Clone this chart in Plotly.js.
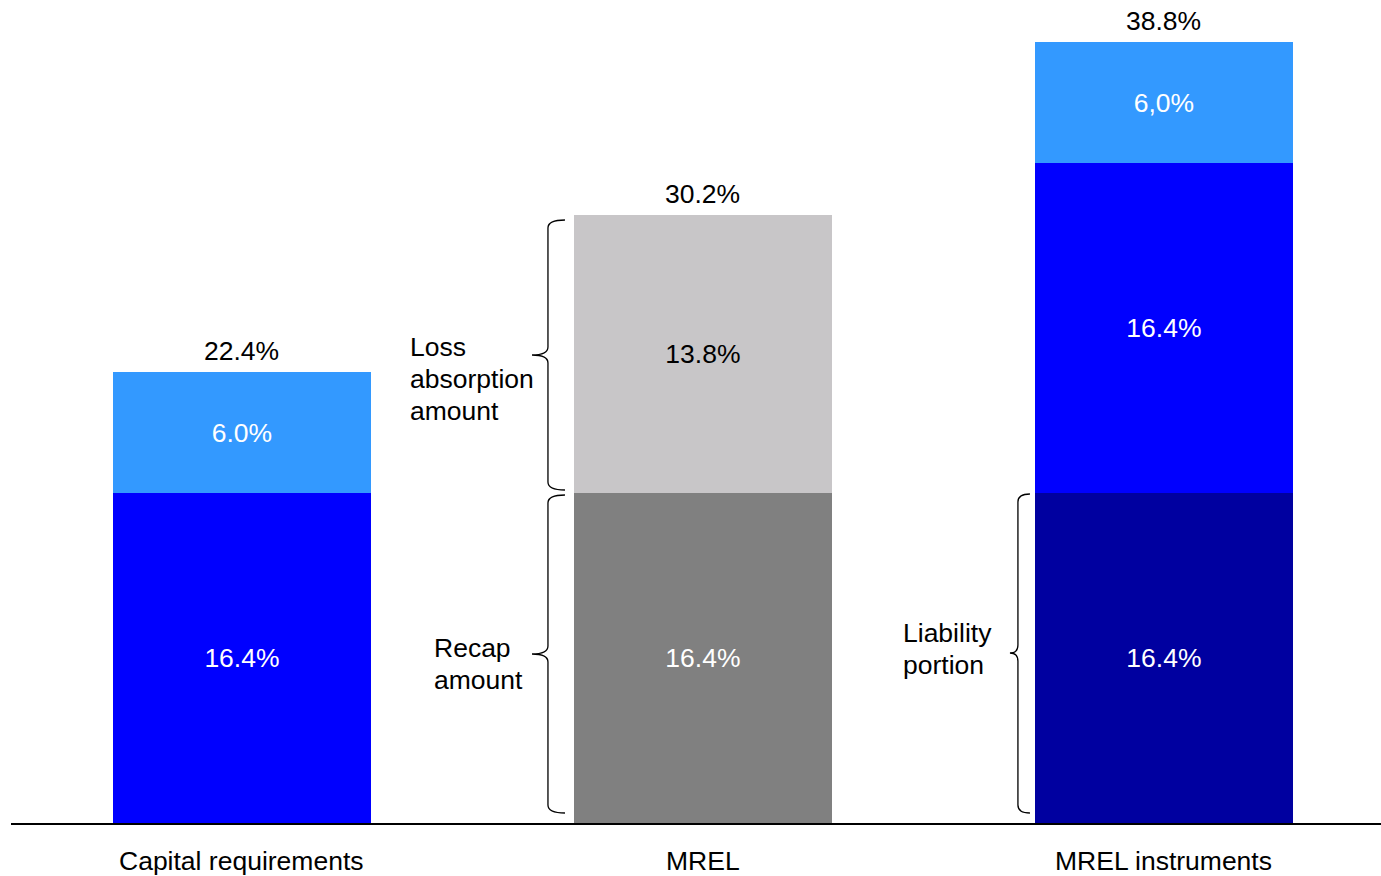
<!DOCTYPE html>
<html><head><meta charset="utf-8">
<script src="https://cdn.plot.ly/plotly-3.0.1.min.js"></script>
<style>html,body{margin:0;padding:0;background:#fff}</style>
</head><body>
<div id="chart" style="width:1381px;height:876px"></div>
<script>
// ---- data ----
const categories = ['Capital requirements', 'MREL', 'MREL instruments'];
const bottomValues = [16.4, 16.4, 16.4];
const middleValues = [6.0, 13.8, 16.4];
const topValues = [null, null, 6.0];
const bottomLabels = ['16.4%', '16.4%', '16.4%'];
const middleLabels = ['6.0%', '13.8%', '16.4%'];
const topLabels = ['', '', '6,0%'];
const totalLabels = ['22.4%', '30.2%', '38.8%'];
const totalValues = [22.4, 30.2, 38.8];
const braceLabels = [['Loss', 'absorption', 'amount'], ['Recap', 'amount'], ['Liability', 'portion']];

// ---- styles ----
const FONT = 'Liberation Sans, Arial, sans-serif';
const FS = 26.5;
const bottomColors = ['#0000FF', '#808080', '#0000A0'];
const middleColors = ['#3399FF', '#C8C6C8', '#0000FF'];
const topColors = ['#3399FF', '#3399FF', '#3399FF'];
const middleTextColors = ['#FFFFFF', '#000000', '#FFFFFF'];
const BW = 0.56;

const ML = 11, MB = 53, H = 876;
const PXU = 461, PYU = (H - MB - 493) / 16.4;
const XR = [-0.501, 2.471], YR = [0, (H - MB) / PYU];
const px2x = px => XR[0] + (px - ML) / PXU;
const py2y = py => (H - MB - py) / PYU;

function seg(vals, labels, colors, tcolors) {
  return {
    type: 'bar', x: categories, y: vals, text: labels, width: BW,
    marker: {color: colors, line: {width: 0}},
    textposition: 'inside', insidetextanchor: 'middle', textangle: 0,
    constraintext: 'none',
    textfont: {family: FONT, size: FS, color: tcolors},
    hoverinfo: 'none'
  };
}
const traces = [
  seg(bottomValues, bottomLabels, bottomColors, ['#FFFFFF','#FFFFFF','#FFFFFF']),
  seg(middleValues, middleLabels, middleColors, middleTextColors),
  seg(topValues, topLabels, topColors, ['#FFFFFF','#FFFFFF','#FFFFFF'])
];

function brace(xOpen, xSpine, xTip, yTop, yMid, yBot, r) {
  const P = (a, b) => px2x(a) + ',' + py2y(b);
  return 'M' + P(xOpen, yTop) + ' Q' + P(xSpine, yTop) + ' ' + P(xSpine, yTop + r) +
    ' L' + P(xSpine, yMid - r) + ' Q' + P(xSpine, yMid) + ' ' + P(xTip, yMid) +
    ' Q' + P(xSpine, yMid) + ' ' + P(xSpine, yMid + r) +
    ' L' + P(xSpine, yBot - r) + ' Q' + P(xSpine, yBot) + ' ' + P(xOpen, yBot);
}
const braceLine = {color: '#000000', width: 1.3};
const shapes = [
  {type: 'path', xref: 'x', yref: 'y', path: brace(565, 548, 532, 220, 355, 490, 8), line: braceLine},
  {type: 'path', xref: 'x', yref: 'y', path: brace(565, 548, 532, 495, 654, 813, 8), line: braceLine},
  {type: 'path', xref: 'x', yref: 'y', path: brace(1030, 1018, 1010, 494, 653, 813, 8), line: braceLine}
];

const annotations = [];
categories.forEach((c, i) => {
  annotations.push({x: c, y: totalValues[i], xref: 'x', yref: 'y', text: totalLabels[i],
    showarrow: false, yanchor: 'bottom', yshift: 4, font: {family: FONT, size: FS, color: '#000'}});
  annotations.push({x: c, y: 0, xref: 'x', yref: 'paper', text: c, showarrow: false,
    yanchor: 'middle', yshift: -38, font: {family: FONT, size: FS, color: '#000'}});
});
const bracePos = [[408, 347], [432, 648], [901, 633]];
braceLabels.forEach((lines, i) => {
  lines.forEach((t, j) => {
    annotations.push({x: px2x(bracePos[i][0]), y: py2y(bracePos[i][1] + 32 * j), xref: 'x', yref: 'y', text: t,
      showarrow: false, xanchor: 'left', yanchor: 'middle', align: 'left',
      font: {family: FONT, size: FS, color: '#000'}});
  });
});

const layout = {
  width: 1381, height: 876,
  margin: {l: ML, r: 0, t: 0, b: MB, pad: 0},
  barmode: 'stack', showlegend: false,
  paper_bgcolor: '#fff', plot_bgcolor: '#fff',
  xaxis: {type: 'category', range: XR, showticklabels: false, ticks: '', showgrid: false,
    zeroline: false, showline: true, linecolor: '#000', linewidth: 2, fixedrange: true},
  yaxis: {range: YR, visible: false, showgrid: false, zeroline: false, fixedrange: true},
  shapes: shapes, annotations: annotations,
  font: {family: FONT, size: FS, color: '#000'}
};
Plotly.newPlot('chart', traces, layout, {displayModeBar: false, staticPlot: true});
</script>
</body></html>
